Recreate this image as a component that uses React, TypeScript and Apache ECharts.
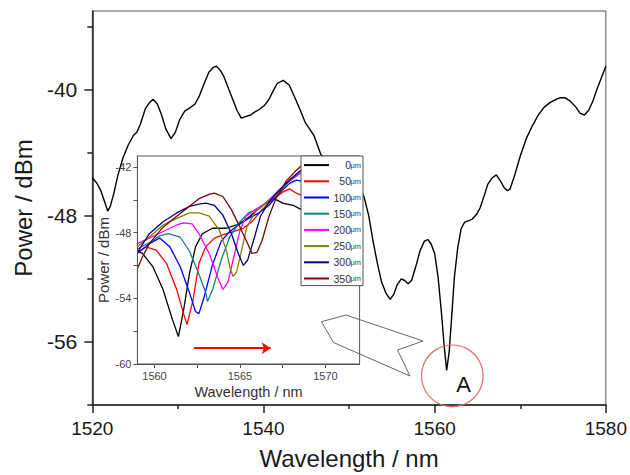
import React, { useEffect, useRef } from 'react';
import * as echarts from 'echarts';

// ---------- main spectrum ----------
const mainWavelength = [
  1520.0, 1520.5, 1521.0, 1521.5, 1521.8, 1522.1, 1522.5, 1523.0, 1523.6, 1524.2,
  1524.8, 1525.2, 1525.6, 1526.2, 1526.7, 1527.1, 1527.6, 1528.1, 1528.6, 1529.2,
  1529.7, 1530.2, 1530.8, 1531.4, 1532.0, 1532.5, 1533.0, 1533.6, 1534.1, 1534.5,
  1535.0, 1535.4, 1535.9, 1536.4, 1536.9, 1537.4, 1537.9, 1538.5, 1539.0, 1539.5,
  1540.1, 1540.65, 1541.1, 1541.6, 1542.3, 1543.0, 1543.75, 1544.3, 1544.9, 1545.4,
  1545.9, 1546.7, 1548.0, 1549.5, 1551.2, 1551.8, 1552.3, 1552.8, 1553.3, 1553.8,
  1554.3, 1554.8, 1555.2, 1555.6, 1556.1, 1556.5, 1556.9, 1557.3, 1557.8, 1558.3,
  1558.8, 1559.2, 1559.6, 1560.0, 1560.4, 1560.8, 1561.1, 1561.4, 1561.7, 1562.0,
  1562.3, 1562.7, 1563.1, 1563.5, 1564.0, 1564.4, 1564.9, 1565.3, 1565.8, 1566.2,
  1566.7, 1567.2, 1567.7, 1568.1, 1568.5, 1568.8, 1569.3, 1570.0, 1570.7, 1571.4,
  1572.1, 1572.8, 1573.5, 1574.2, 1574.7, 1575.2, 1575.8, 1576.5, 1577.0, 1577.5,
  1578.0, 1578.5, 1579.0, 1579.5, 1580.0,
];
const mainPower = [
  -45.6, -45.9, -46.4, -47.2, -47.7, -47.4, -46.6, -45.4, -44.3, -43.5,
  -42.9, -42.7, -42.2, -41.2, -40.8, -40.6, -40.9, -41.6, -42.5, -43.1,
  -42.7, -41.9, -41.35, -41.15, -40.9, -40.4, -39.7, -38.9, -38.6, -38.5,
  -38.8, -39.2, -39.9, -40.6, -41.3, -41.8, -41.7, -41.6, -41.4, -41.25,
  -41.0, -40.6, -40.1, -39.6, -39.4, -39.7, -40.6, -41.3, -42.1, -42.5,
  -42.9, -44.1, -44.8, -45.3, -46.0, -46.9, -48.0, -49.6, -51.0, -52.2,
  -52.9, -53.3, -53.0, -52.4, -52.0, -52.1, -52.3, -52.1, -51.2, -50.2,
  -49.6, -49.5, -49.8, -50.4, -51.9, -54.2, -56.2, -57.8, -56.6, -54.3,
  -51.9, -50.0, -48.8, -48.4, -48.3, -48.2, -47.9, -47.5, -46.7, -46.0,
  -45.6, -45.4, -45.8, -46.2, -46.4, -46.3, -45.5, -44.2, -43.1, -42.3,
  -41.6, -41.1, -40.8, -40.6, -40.5, -40.5, -40.7, -41.1, -41.5, -41.6,
  -41.3, -40.7, -39.9, -39.2, -38.5,
];
const mainXLabels = [1520, 1540, 1560, 1580];
const mainYLabels = [-56, -48, -40];
const mainYMinorTicks = [-60, -52, -44, -36];

// ---------- inset spectra ----------
const insetNames = ['0 μm', '50 μm', '100 μm', '150 μm', '200 μm', '250 μm', '300 μm', '350 μm'];
const insetColors = ['#000000', '#ff0000', '#0000ff', '#108080', '#ff00ff', '#808000', '#000080', '#800000'];

const wl0 = [1559.0, 1559.3, 1559.9, 1560.5, 1561.0, 1561.4, 1561.7, 1562.05, 1562.4, 1562.8, 1563.4, 1564.2, 1564.8, 1565.35, 1565.9, 1566.5, 1567.0, 1567.5, 1568.1, 1568.6, 1569.2];
const pw0 = [-49.7, -49.9, -51.1, -53.2, -55.7, -57.5, -55.1, -51.7, -49.3, -48.1, -47.6, -47.6, -47.3, -46.8, -46.1, -45.3, -44.9, -45.3, -45.5, -45.9, -46.0];

const wl50 = [1559.0, 1559.5, 1560.1, 1560.7, 1561.3, 1561.7, 1561.9, 1562.25, 1562.6, 1563.0, 1563.5, 1564.0, 1564.6, 1565.2, 1565.7, 1566.3, 1566.9, 1567.5, 1567.9, 1568.3, 1568.6, 1569.2];
const pw50 = [-49.8, -49.3, -49.6, -50.8, -53.2, -55.4, -56.4, -54.2, -50.8, -49.3, -48.5, -48.2, -47.9, -47.6, -47.0, -45.9, -45.0, -44.3, -44.0, -44.4, -44.6, -44.5];

const wl100 = [1559.0, 1559.7, 1560.3, 1560.9, 1561.5, 1562.05, 1562.4, 1562.6, 1562.9, 1563.4, 1563.9, 1564.4, 1565.0, 1565.5, 1566.1, 1566.7, 1567.3, 1567.9, 1568.3, 1568.6, 1569.2];
const pw100 = [-49.9, -49.0, -48.5, -49.3, -51.1, -53.5, -55.2, -55.4, -53.9, -50.9, -48.8, -47.9, -47.2, -46.7, -46.2, -45.5, -44.4, -43.5, -43.2, -43.3, -43.0];

const wl150 = [1559.0, 1559.7, 1560.3, 1560.8, 1561.5, 1562.05, 1562.6, 1563.0, 1563.1, 1563.4, 1563.9, 1564.4, 1565.0, 1565.5, 1566.1, 1566.7, 1567.3, 1567.9, 1568.5, 1569.2];
const pw150 = [-49.5, -48.9, -48.3, -48.1, -48.4, -49.7, -51.8, -53.5, -54.3, -53.2, -50.5, -48.4, -47.0, -46.2, -45.8, -45.2, -44.3, -43.3, -42.6, -42.0];

const wl200 = [1559.0, 1559.7, 1560.5, 1561.3, 1561.7, 1562.2, 1562.6, 1563.2, 1563.7, 1564.0, 1564.3, 1564.6, 1565.0, 1565.35, 1565.9, 1566.5, 1567.1, 1567.7, 1568.5, 1569.2];
const pw200 = [-49.0, -48.5, -47.9, -47.3, -47.1, -47.2, -48.1, -49.9, -52.1, -53.2, -52.5, -50.5, -47.8, -46.5, -45.9, -45.3, -44.4, -43.5, -42.6, -42.0];

const wl250 = [1559.0, 1559.7, 1560.5, 1561.3, 1562.05, 1562.6, 1563.2, 1563.8, 1564.2, 1564.45, 1564.6, 1564.8, 1565.1, 1565.4, 1565.9, 1566.5, 1567.1, 1567.7, 1568.5, 1569.2];
const pw250 = [-49.3, -48.4, -47.3, -46.7, -46.2, -46.2, -46.5, -47.8, -49.6, -51.4, -52.0, -51.6, -49.6, -47.5, -46.1, -45.3, -44.6, -43.5, -42.4, -41.8];

const wl300 = [1559.0, 1559.7, 1560.5, 1561.3, 1562.05, 1562.6, 1563.0, 1563.5, 1564.0, 1564.5, 1564.9, 1565.2, 1565.45, 1565.8, 1566.2, 1566.7, 1567.3, 1567.9, 1568.5, 1569.2];
const pw300 = [-49.8, -48.1, -47.0, -46.2, -45.6, -45.4, -45.3, -45.5, -46.4, -48.1, -49.9, -51.0, -50.5, -48.7, -46.5, -45.2, -44.1, -43.2, -42.4, -41.8];

const wl350 = [1559.0, 1559.3, 1559.7, 1560.5, 1561.3, 1562.05, 1562.6, 1563.2, 1563.5, 1564.0, 1564.5, 1565.0, 1565.45, 1565.7, 1566.0, 1566.3, 1566.7, 1567.1, 1567.7, 1568.3, 1568.6, 1569.0];
const pw350 = [-51.3, -50.2, -49.0, -47.5, -46.5, -45.6, -44.9, -44.5, -44.4, -44.7, -45.9, -47.5, -49.0, -49.9, -49.8, -48.7, -46.5, -44.9, -43.3, -42.3, -41.9, -41.4];

const insetWavelengths = [wl0, wl50, wl100, wl150, wl200, wl250, wl300, wl350];
const insetPowers = [pw0, pw50, pw100, pw150, pw200, pw250, pw300, pw350];

const insetXLabels = [1560, 1565, 1570];
const insetXTicks = [1560, 1562.5, 1565, 1567.5, 1570];
const insetYLabels = [-60, -54, -48, -42];
const insetYTicks = [-60, -57, -54, -51, -48, -45, -42];

// red shift arrow (data coordinates of the inset)
const shiftArrowStart = [1562.3, -58.55];
const shiftArrowEnd = [1566.8, -58.55];

const zip = (xs: number[], ys: number[]) => xs.map((x, i) => [x, ys[i]]);
const plain = (v: number) => String(v);

export default function App() {
  const ref = useRef<HTMLDivElement>(null);

  useEffect(() => {
    if (!ref.current) return;
    const chart = echarts.init(ref.current, null, { renderer: 'svg' });
    const font = 'Liberation Sans, Arial, sans-serif';

    const insetSeries = insetNames.map((name, i) => ({
      type: 'line',
      name,
      xAxisIndex: 1,
      yAxisIndex: 2,
      data: zip(insetWavelengths[i], insetPowers[i]),
      symbol: 'none',
      z: 4,
      silent: true,
      lineStyle: { color: insetColors[i], width: 1.3 },
      itemStyle: { color: insetColors[i] },
      markLine:
        i === 0
          ? {
              silent: true,
              symbol: ['none', 'arrow'],
              symbolSize: 9,
              lineStyle: { color: '#ff0000', width: 2, type: 'solid' },
              label: { show: false },
              data: [[{ coord: shiftArrowStart }, { coord: shiftArrowEnd }]],
            }
          : undefined,
    }));

    const option: any = {
      animation: false,
      textStyle: { fontFamily: font },
      grid: [
        {
          left: 92.3, right: 21.3, top: 11, bottom: 64,
          show: true, borderColor: '#555', borderWidth: 1, backgroundColor: 'transparent',
        },
        {
          left: 137.4, top: 156, width: 222.2, height: 208,
          show: true, borderColor: '#555', borderWidth: 1, backgroundColor: '#ffffff', z: 3,
        },
      ],
      xAxis: [
        {
          type: 'value', gridIndex: 0, min: 1520, max: 1580, interval: 20,
          axisLine: { lineStyle: { color: '#222', width: 1.5 } },
          axisTick: { length: 8, lineStyle: { color: '#222', width: 1.5 } },
          minorTick: { show: true, splitNumber: 2, length: 4, lineStyle: { color: '#222', width: 1.5 } },
          splitLine: { show: false },
          axisLabel: { fontSize: 19, color: '#1a1a1a', margin: 14, fontFamily: font,
            customValues: mainXLabels, formatter: plain },
          name: 'Wavelength / nm', nameLocation: 'middle', nameGap: 41,
          nameTextStyle: { fontSize: 24, color: '#1a1a1a', fontFamily: font },
        },
        {
          type: 'value', gridIndex: 1, min: 1559, max: 1572, z: 5,
          axisLine: { lineStyle: { color: '#555', width: 1 } },
          axisTick: { length: 4, customValues: insetXTicks, lineStyle: { color: '#555' } },
          splitLine: { show: false },
          axisLabel: { fontSize: 11, color: '#444', margin: 6, fontFamily: font,
            customValues: insetXLabels, formatter: plain },
          name: 'Wavelength / nm', nameLocation: 'middle', nameGap: 20,
          nameTextStyle: { fontSize: 14.5, color: '#333', fontFamily: font },
        },
      ],
      yAxis: [
        {
          type: 'value', gridIndex: 0, position: 'left', min: -60, max: -35,
          axisLine: { show: true, lineStyle: { color: '#222', width: 1.5 } },
          axisTick: { show: true, length: 8, customValues: mainYLabels, lineStyle: { color: '#222', width: 1.5 } },
          splitLine: { show: false },
          axisLabel: { fontSize: 21, color: '#1a1a1a', margin: 15, fontFamily: font,
            customValues: mainYLabels, formatter: plain },
          name: 'Power / dBm', nameLocation: 'middle', nameGap: 57,
          nameTextStyle: { fontSize: 24, color: '#1a1a1a', fontFamily: font },
        },
        {
          type: 'value', gridIndex: 0, position: 'left', min: -60, max: -35,
          axisLine: { show: false },
          axisTick: { show: true, length: 5, customValues: mainYMinorTicks, lineStyle: { color: '#222', width: 1.5 } },
          splitLine: { show: false },
          axisLabel: { show: false },
        },
        {
          type: 'value', gridIndex: 1, position: 'left', min: -60, max: -41, z: 5,
          axisLine: { show: true, lineStyle: { color: '#555', width: 1 } },
          axisTick: { show: true, length: 4, customValues: insetYTicks, lineStyle: { color: '#555' } },
          splitLine: { show: false },
          axisLabel: { fontSize: 11, color: '#444', margin: 6, fontFamily: font,
            customValues: insetYLabels, formatter: plain },
          name: 'Power / dBm', nameLocation: 'middle', nameGap: 26,
          nameTextStyle: { fontSize: 15, color: '#333', fontFamily: font },
        },
      ],
      legend: {
        data: insetNames,
        orient: 'vertical',
        left: 301,
        top: 156,
        itemWidth: 25,
        itemHeight: 14,
        itemGap: 5,
        padding: [3.5, 2, 1.5, 2],
        backgroundColor: '#ffffff',
        borderColor: '#555',
        borderWidth: 1,
        z: 6,
        selectedMode: false,
        itemStyle: { opacity: 0 },
        lineStyle: { width: 2 },
        formatter: (name: string) => {
          const parts = name.split(' ');
          return `{n|${parts[0]}}{u|${parts[1]}}`;
        },
        textStyle: {
          fontFamily: font,
          rich: {
            n: { fontSize: 10.5, width: 17, align: 'right', color: '#333', fontFamily: font },
            u: { fontSize: 7.5, width: 10, align: 'right', color: '#444', fontFamily: font },
          },
        },
      },
      series: [
        {
          type: 'line',
          name: 'main',
          xAxisIndex: 0,
          yAxisIndex: 0,
          data: zip(mainWavelength, mainPower),
          symbol: 'none',
          z: 2,
          silent: true,
          lineStyle: { color: '#000', width: 1.4 },
        },
        ...insetSeries,
      ],
      graphic: [
        {
          type: 'polygon',
          z: 10,
          silent: true,
          shape: { points: [[321.5, 321.7], [346, 315], [423, 341], [397.5, 350], [410, 376], [333.5, 342.5]] },
          style: { fill: 'none', stroke: '#666', lineWidth: 1 },
        },
        {
          type: 'circle',
          z: 10,
          silent: true,
          shape: { cx: 452.3, cy: 375.8, r: 30.8 },
          style: { fill: 'none', stroke: '#e46a6a', lineWidth: 1.2 },
        },
        {
          type: 'text',
          z: 10,
          silent: true,
          x: 463.5,
          y: 384,
          style: {
            text: 'A', fontSize: 22, fontFamily: font, fill: '#111',
            align: 'center', verticalAlign: 'middle', textAlign: 'center', textVerticalAlign: 'middle',
          },
        },
      ],
    };

    chart.setOption(option);
    return () => chart.dispose();
  }, []);

  return (
    <div
      ref={ref}
      style={{ position: 'fixed', left: 0, top: 0, width: 630, height: 475, background: '#ffffff' }}
    />
  );
}
